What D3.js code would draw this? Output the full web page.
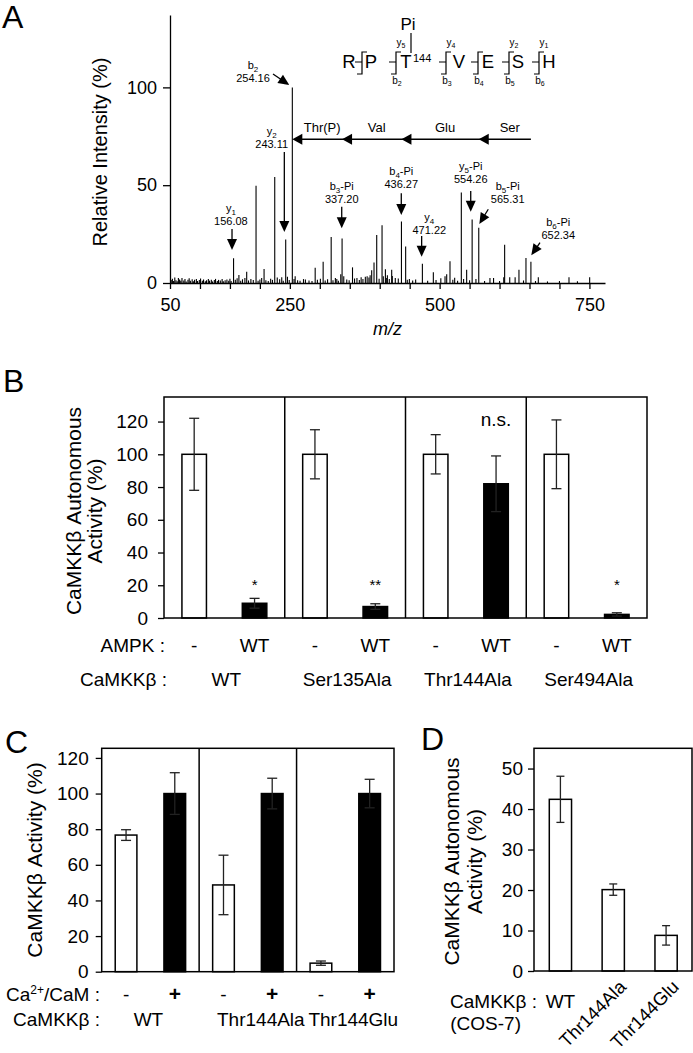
<!DOCTYPE html>
<html><head><meta charset="utf-8">
<script src="https://cdn.jsdelivr.net/npm/d3@7"></script>
<style>
body{margin:0;background:#fff}
svg{display:block}
text{font-family:"Liberation Sans",Arial,Helvetica,sans-serif;fill:#000}
</style></head><body>
<svg id="c" width="693" height="1053"></svg>
<script>
// ---------------- Panel A data ----------------
const peaks = [[156.08,12.6],[165,4.1],[178,5.8],[193.6,49.7],[207,7.2],[224.8,54.2],[236.5,3],[243.11,22.3],[254.16,100],[258.9,3.5],[272.8,2],[292.3,7.8],[305.6,10.9],[319,23.5],[328.4,2],[335,4.5],[337.2,22.8],[354.6,8],[362,2.5],[369,3],[379,3.5],[386.6,6.5],[390.5,10.5],[395,24.5],[403.9,29.5],[409.5,7],[412.8,4],[420,6.8],[436.27,31.5],[443.3,18.7],[449.5,2],[471.22,9.9],[489.5,5.5],[511.8,4.5],[517.3,11.1],[525.1,2.7],[536.2,46.3],[545.1,6.8],[554.26,32.4],[560.6,2],[565.31,28.3],[608.5,19.6],[632.4,6.8],[644.1,12.8],[652.34,10.9],[664.7,2.9],[715.9,3],[750.4,3]];
const noise = [[52,1.5],[54,2.2],[56,1.0],[58,2.8],[60,1.4],[62,0.9],[64,2.5],[66,1.8],[68,1.1],[70,2.6],[73,1.3],[75,2.0],[77,0.8],[80,1.7],[82,2.4],[84,1.2],[87,1.9],[89,0.9],[91,1.6],[94,2.1],[96,1.0],[99,1.5],[101,2.3],[104,1.1],[106,1.8],[109,0.9],[111,1.4],[114,2.0],[116,1.2],[119,1.7],[121,0.8],[124,1.5],[126,2.1],[129,1.0],[131,1.6],[134,1.3],[137,2.0],[139,0.9],[142,1.4],[145,1.8],[148,1.1],[150,2.2],[152,1.0],[159,1.6],[162,2.4],[168,1.2],[171,1.9],[175,2.6],[181,1.3],[185,2.0],[189,1.5],[197,1.1],[200,1.8],[203,2.5],[210,1.4],[214,1.0],[218,2.2],[221,1.6],[229,2.8],[233,1.9],[239,1.2],[246,3.2],[249,1.5],[257,2.0],[263,1.4],[267,1.1],[276,1.8],[282,1.3],[287,1.0],[296,1.6],[301,2.2],[309,1.3],[313,1.9],[322,1.4],[326,2.5],[331,1.1],[340,3.5],[345,1.8],[349,1.4],[358,2.3],[366,1.5],[372,2.0],[376,3.2],[382,2.8],[384,4.0],[399,2.2],[406,3.4],[411,2.5],[416,2.0],[421,3.6],[426,2.6],[431,2.3],[446,1.6],[455,1.3],[460,1.8],[480,1.2],[494,1.5],[502,2.4],[509,3.5],[522,1.6],[530,1.2],[540,2.0],[550,1.4],[575,1.0],[584,2.5],[590,2.5],[600,1.0],[607,3.0],[617,3.0],[626,3.0],[640,1.3],[660,1.0],[680,0.8],[700,1.0],[730,0.9]];
const xTicksA = d3.range(50, 751, 50);
const xTickLabelsA = [50, 250, 500, 750];
const yTicksA = [0, 50, 100];
// ion annotations: label anchor (m/z, intensity) and arrow from -> tip (m/z, intensity)
const ions = [
  {ion:"y", sub:"1", suf:"",    val:"156.08", lx:151.6, ly:36.3, a:[153.5,27.6,153.5,16.9]},
  {ion:"y", sub:"2", suf:"",    val:"243.11", lx:219.7, ly:75.7, a:[240.8,67,240.8,26.1]},
  {ion:"b", sub:"2", suf:"",    val:"254.16", lx:188.5, ly:109.4,a:[221.9,106.8,249.1,101.2]},
  {ion:"b", sub:"3", suf:"-Pi", val:"337.20", lx:336.6, ly:47.5, a:[336.6,39,336.6,28]},
  {ion:"b", sub:"4", suf:"-Pi", val:"436.27", lx:436,   ly:55.2, a:[436,45.9,436,34.8]},
  {ion:"y", sub:"4", suf:"",    val:"471.22", lx:482.8, ly:31.7, a:[470,24,470,13.4]},
  {ion:"y", sub:"5", suf:"-Pi", val:"554.26", lx:551.9, ly:57.8, a:[551.9,47,551.9,36.4]},
  {ion:"b", sub:"5", suf:"-Pi", val:"565.31", lx:613.6, ly:47.5, a:[581.2,37.7,566.2,30.2]},
  {ion:"b", sub:"6", suf:"-Pi", val:"652.34", lx:698,   ly:29.1, a:[667.5,20.6,653,14.2]}
];
const ladderMz = [254.16, 337.20, 436.27, 565.31, 652.34];
const ladderRes = ["Thr(P)", "Val", "Glu", "Ser"];
const ladderI = 73.5;
const residues = ["R","P","T","V","E","S","H"];
const yIonLabels = [null, "5", "4", null, "2", "1"];
const bIonLabels = [null, "2", "3", "4", "5", "6"];

// ---------------- Panel B data ----------------
const bGroups = ["WT","Ser135Ala","Thr144Ala","Ser494Ala"];
const bAmpk = ["-","WT"];
const bCtrl = [100,100,100,100];
const bCtrlErr = [22,15,12,21];
const bTreat = [9,7,82,2.2];
const bTreatErr = [3,1.7,17,1];
const bSig = ["*","**","n.s.","*"];
const bSigY = [21,21,117,21];
const yTicksB = [0,20,40,60,80,100,120];

// ---------------- Panel C data ----------------
const cGroups = ["WT","Thr144Ala","Thr144Glu"];
const cCa = ["-","+"];
const cMinus = [76.7,48.7,4.8];
const cMinusErr = [3,16.7,1.2];
const cPlus = [100,100,100];
const cPlusErr = [11.7,8.6,8];
const yTicksC = [0,20,40,60,80,100,120];

// ---------------- Panel D data ----------------
const dCats = ["WT","Thr144Ala","Thr144Glu"];
const dVals = [42.4,20.1,8.8];
const dErr = [5.7,1.4,2.4];
const yTicksD = [0,10,20,30,40,50];

// ============================================================
const F = '"Liberation Sans", Arial, Helvetica, sans-serif';
const svg = d3.select("#c");
function styleAxis(g, fs){
  g.attr("font-family", F);
  g.selectAll("text").attr("font-size", fs).attr("fill", "#000");
  g.selectAll("line,path").attr("stroke", "#000").attr("stroke-width", 1.3);
}
function txt(g, x, y, s, fs, anchor){
  return g.append("text").attr("x", x).attr("y", y).attr("font-size", fs)
    .attr("text-anchor", anchor || "middle").text(s);
}
function panelLetter(x, y, s){ txt(svg, x, y, s, 32, "start"); }
function errBar(g, x, y0, y1, w){
  g.append("line").attr("x1",x).attr("x2",x).attr("y1",y0).attr("y2",y1).attr("stroke","#222").attr("stroke-width",1.3);
  [y0,y1].forEach(y=>g.append("line").attr("x1",x-w/2).attr("x2",x+w/2).attr("y1",y).attr("y2",y).attr("stroke","#222").attr("stroke-width",1.3));
}

// ---------------- Panel A ----------------
panelLetter(2, 28, "A");
const xA = d3.scaleLinear().domain([50, 776]).range([170, 605]);
const yA = d3.scaleLinear().domain([0, 137]).range([283, 15]);
const gA = svg.append("g");
gA.append("g").attr("transform", "translate(0,283)")
  .call(d3.axisBottom(xA).tickValues(xTicksA).tickSize(6).tickSizeOuter(0).tickPadding(9)
    .tickFormat(d => xTickLabelsA.includes(d) ? d : ""))
  .call(g => styleAxis(g, 18));
gA.append("g").attr("transform", "translate(170,0)")
  .call(d3.axisLeft(yA).tickValues(yTicksA).tickSize(7).tickSizeOuter(0).tickPadding(6))
  .call(g => styleAxis(g, 18));
gA.append("text").attr("transform", "translate(100,152) rotate(-90)").attr("text-anchor","middle")
  .attr("dy","0.35em").attr("font-size",20).text("Relative Intensity (%)");
gA.append("text").attr("x", xA(413)).attr("y", 335).attr("text-anchor","middle")
  .attr("font-size",18).attr("font-style","italic").text("m/z");

gA.append("g").selectAll("line").data(noise.concat(peaks)).join("line")
  .attr("x1", d => xA(d[0])).attr("x2", d => xA(d[0]))
  .attr("y1", yA(0)).attr("y2", d => yA(d[1]))
  .attr("stroke", "#000").attr("stroke-width", 1.1);

function arrowHead(g, x1, y1, x2, y2, L, W){
  const dx = x2-x1, dy = y2-y1, len = Math.hypot(dx,dy) || 1;
  const ux = dx/len, uy = dy/len, nx = -uy, ny = ux;
  const bx = x2 - ux*L, by = y2 - uy*L;
  g.append("path").attr("d", `M${x2},${y2}L${bx+nx*W/2},${by+ny*W/2}L${bx-nx*W/2},${by-ny*W/2}Z`).attr("fill","#000");
  return [bx + ux*2, by + uy*2];
}
function arrow(g, x1, y1, x2, y2){
  const b = arrowHead(g, x1, y1, x2, y2, 11, 10);
  g.append("line").attr("x1",x1).attr("y1",y1).attr("x2",b[0]).attr("y2",b[1]).attr("stroke","#000").attr("stroke-width",1.3);
}
const gIon = gA.append("g");
ions.forEach(d => {
  const t = gIon.append("text").attr("x", xA(d.lx)).attr("y", yA(d.ly)).attr("text-anchor","middle").attr("font-size", 11);
  t.append("tspan").text(d.ion);
  t.append("tspan").attr("dy", 3).attr("font-size", 8).text(d.sub);
  t.append("tspan").attr("dy", -3).text(d.suf);
  gIon.append("text").attr("x", xA(d.lx)).attr("y", yA(d.ly) + 13).attr("text-anchor","middle").attr("font-size", 11).text(d.val);
  arrow(gIon, xA(d.a[0]), yA(d.a[1]), xA(d.a[2]), yA(d.a[3]));
});
// sequence ladder
const gL = gA.append("g");
gL.append("line").attr("x1", xA(ladderMz[0]) + 5).attr("x2", xA(ladderMz[4]))
  .attr("y1", yA(ladderI)).attr("y2", yA(ladderI)).attr("stroke","#000").attr("stroke-width",1.4);
ladderMz.slice(0,4).forEach(m => arrowHead(gL, xA(m)+20, yA(ladderI), xA(m), yA(ladderI), 10, 11));
ladderRes.forEach((r,i) => txt(gL, (xA(ladderMz[i]) + xA(ladderMz[i+1]))/2 + 5, yA(ladderI) - 7, r, 13));

// peptide diagram
const gP = gA.append("g");
const resX = [349, 371, 406, 459, 488, 518, 549];
const cutX = [362, 396, 446, 478, 509, 539];
residues.forEach((r,i) => txt(gP, resX[i], 68, r, 18.5));
txt(gP, 413, 62, "144", 11, "start");
txt(gP, 408, 30, "Pi", 17);
gP.append("line").attr("x1",411).attr("x2",411).attr("y1",33).attr("y2",53).attr("stroke","#000").attr("stroke-width",1.2);
cutX.forEach((x,i) => {
  gP.append("path").attr("d", `M${x+5},52H${x}V74H${x-5}M${x-7},62H${x}`)
    .attr("fill","none").attr("stroke","#000").attr("stroke-width",1.2);
  if (yIonLabels[i]) {
    const t = gP.append("text").attr("x", x+5).attr("y", 46).attr("text-anchor","middle").attr("font-size",10);
    t.append("tspan").text("y"); t.append("tspan").attr("dy",2).attr("font-size",7).text(yIonLabels[i]);
  }
  if (bIonLabels[i]) {
    const t = gP.append("text").attr("x", x+1).attr("y", 84).attr("text-anchor","middle").attr("font-size",10);
    t.append("tspan").text("b"); t.append("tspan").attr("dy",2).attr("font-size",7).text(bIonLabels[i]);
  }
});

// ---------------- Panel B ----------------
panelLetter(3, 392, "B");
const gB = svg.append("g");
const xBg = d3.scaleBand().domain(bGroups).range([164, 647]);
const xBi = d3.scaleBand().domain(bAmpk).range([0, xBg.bandwidth()]).paddingInner(0.594).paddingOuter(0.297);
const yB = d3.scaleLinear().domain([0, 135]).range([618, 397]);
gB.append("g").attr("transform","translate(164,0)")
  .call(d3.axisLeft(yB).tickValues(yTicksB).tickSize(6).tickSizeOuter(0).tickPadding(10))
  .call(g => { styleAxis(g, 19); g.select(".domain").remove(); });
bGroups.forEach((grp, i) => {
  const x0 = xBg(grp);
  const vals = [[bCtrl[i], bCtrlErr[i], "#fff"], [bTreat[i], bTreatErr[i], "#000"]];
  vals.forEach((v, j) => {
    const bx = x0 + xBi(bAmpk[j]);
    gB.append("rect").attr("x", bx).attr("y", yB(v[0])).attr("width", xBi.bandwidth())
      .attr("height", yB(0) - yB(v[0])).attr("fill", v[2]).attr("stroke","#000").attr("stroke-width",1.5);
    const cx = bx + xBi.bandwidth()/2;
    errBar(gB, cx, yB(v[0]+v[1]), yB(Math.max(0, v[0]-v[1])), 10);
    txt(gB, cx, 652, bAmpk[j], 19);
  });
  const sx = x0 + xBi(bAmpk[1]) + xBi.bandwidth()/2;
  txt(gB, sx, yB(bSigY[i]) + (bSig[i] === "n.s." ? 0 : 6), bSig[i], bSig[i] === "n.s." ? 19 : 15);
  txt(gB, x0 + xBg.bandwidth()/2 + 2, 686, grp, 19);
  if (i > 0) gB.append("line").attr("x1", x0).attr("x2", x0).attr("y1", 397).attr("y2", 618).attr("stroke","#000").attr("stroke-width",1.5);
});
gB.append("rect").attr("x",164).attr("y",397).attr("width",483).attr("height",221).attr("fill","none").attr("stroke","#000").attr("stroke-width",1.5);
txt(gB, 165, 652, "AMPK :", 19, "end");
txt(gB, 167, 686, "CaMKKβ :", 19, "end");
const tB = gB.append("text").attr("transform","translate(0,511) rotate(-90)").attr("text-anchor","middle").attr("font-size",21);
tB.append("tspan").attr("x",0).attr("y",73.3).attr("dy","0.35em").text("CaMKKβ Autonomous");
tB.append("tspan").attr("x",0).attr("y",95).attr("dy","0.35em").text("Activity (%)");

// ---------------- Panel C ----------------
panelLetter(5, 753, "C");
const gC = svg.append("g");
const xCg = d3.scaleBand().domain(cGroups).range([101.7, 394]);
const xCi = d3.scaleBand().domain(cCa).range([0, xCg.bandwidth()]).paddingInner(0.555).paddingOuter(0.2775);
const yC = d3.scaleLinear().domain([0, 125.4]).range([971.7, 748.3]);
const cLabelDx = [-2, 13, 8];
gC.append("g").attr("transform","translate(101.7,0)")
  .call(d3.axisLeft(yC).tickValues(yTicksC).tickSize(6).tickSizeOuter(0).tickPadding(7))
  .call(g => { styleAxis(g, 19); g.select(".domain").remove(); });
cGroups.forEach((grp, i) => {
  const x0 = xCg(grp);
  const vals = [[cMinus[i], cMinusErr[i], "#fff"], [cPlus[i], cPlusErr[i], "#000"]];
  vals.forEach((v, j) => {
    const bx = x0 + xCi(cCa[j]);
    gC.append("rect").attr("x", bx).attr("y", yC(v[0])).attr("width", xCi.bandwidth())
      .attr("height", yC(0) - yC(v[0])).attr("fill", v[2]).attr("stroke","#000").attr("stroke-width",1.5);
    const cx = bx + xCi.bandwidth()/2;
    errBar(gC, cx, yC(v[0]+v[1]), yC(Math.max(0, v[0]-v[1])), 10);
    txt(gC, cx, 1001, cCa[j], j === 1 ? 21 : 19).attr("font-weight", j === 1 ? "bold" : null);
  });
  txt(gC, x0 + xCg.bandwidth()/2 + cLabelDx[i], 1026, grp, 19);
  if (i > 0) gC.append("line").attr("x1", x0).attr("x2", x0).attr("y1", 748.3).attr("y2", 971.7).attr("stroke","#000").attr("stroke-width",1.5);
});
gC.append("rect").attr("x",101.7).attr("y",748.3).attr("width",292.3).attr("height",223.4).attr("fill","none").attr("stroke","#000").attr("stroke-width",1.5);
const tC = gC.append("text").attr("x", 100).attr("y", 1001).attr("text-anchor","end").attr("font-size",19);
tC.append("tspan").text("Ca");
tC.append("tspan").attr("dy",-7).attr("font-size",12).text("2+");
tC.append("tspan").attr("dy",7).text("/CaM :");
txt(gC, 100, 1026, "CaMKKβ :", 19, "end");
gC.append("text").attr("transform","translate(35,860) rotate(-90)").attr("text-anchor","middle")
  .attr("dy","0.35em").attr("font-size",21).text("CaMKKβ Activity (%)");

// ---------------- Panel D ----------------
panelLetter(421, 750, "D");
const gD = svg.append("g");
const xD = d3.scaleBand().domain(dCats).range([534, 692.5]).paddingInner(0.579).paddingOuter(0.2895);
const yD = d3.scaleLinear().domain([0, 55]).range([971, 748.3]);
gD.append("g").attr("transform","translate(534,0)")
  .call(d3.axisLeft(yD).tickValues(yTicksD).tickSize(6).tickSizeOuter(0).tickPadding(5))
  .call(g => { styleAxis(g, 19); g.select(".domain").remove(); });
dCats.forEach((c, i) => {
  const bx = xD(c);
  gD.append("rect").attr("x", bx).attr("y", yD(dVals[i])).attr("width", xD.bandwidth())
    .attr("height", yD(0) - yD(dVals[i])).attr("fill", "#fff").attr("stroke","#000").attr("stroke-width",1.5);
  const cx = bx + xD.bandwidth()/2;
  errBar(gD, cx, yD(dVals[i]+dErr[i]), yD(dVals[i]-dErr[i]), 8);
  if (i === 0) txt(gD, cx, 1008, c, 19);
  else gD.append("text").attr("transform", `translate(${cx+14},988) rotate(-45)`).attr("text-anchor","end").attr("font-size",18.5).text(c);
});
gD.append("rect").attr("x",534).attr("y",748.3).attr("width",158).attr("height",222.7).attr("fill","none").attr("stroke","#000").attr("stroke-width",1.5);
txt(gD, 537, 1008, "CaMKKβ :", 19, "end");
txt(gD, 521, 1030, "(COS-7)", 19, "end");
const tD = gD.append("text").attr("transform","translate(0,861.5) rotate(-90)").attr("text-anchor","middle").attr("font-size",21);
tD.append("tspan").attr("x",0).attr("y",451.7).attr("dy","0.35em").text("CaMKKβ Autonomous");
tD.append("tspan").attr("x",0).attr("y",475).attr("dy","0.35em").text("Activity (%)");
</script>
</body></html>
